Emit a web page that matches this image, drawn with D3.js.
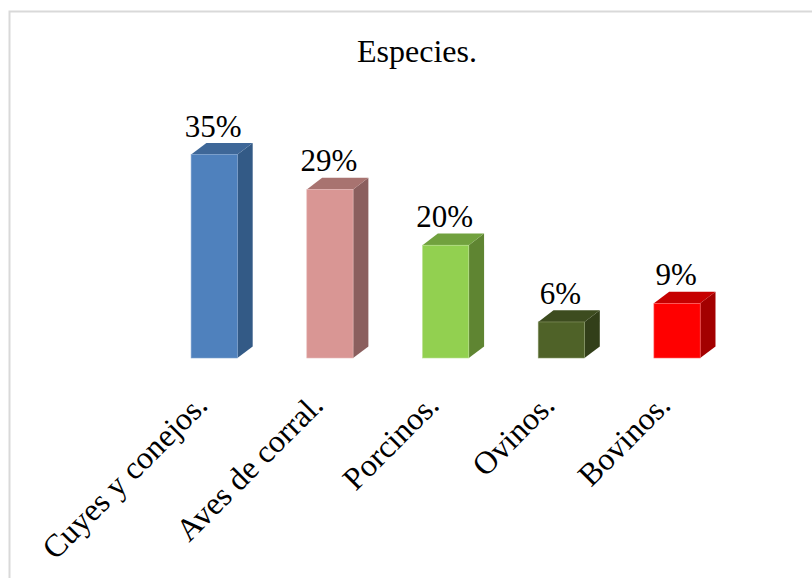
<!DOCTYPE html>
<html>
<head>
<meta charset="utf-8">
<script src="https://cdn.jsdelivr.net/npm/d3@7"></script>
<style>
  html, body { margin: 0; padding: 0; background: #fff; }
  svg { display: block; }
  text { font-family: "Liberation Serif", serif; fill: #000; }
</style>
</head>
<body>
<div id="chart"></div>
<script>
// Data
let categories = ["Cuyes y conejos.", "Aves de corral.", "Porcinos.", "Ovinos.", "Bovinos."];
let values = [35, 29, 19.4, 6.2, 9.4];
let valueLabels = ["35%", "29%", "20%", "6%", "9%"];
let frontColors = ["#4f81bd", "#d99694", "#92d050", "#4f6228", "#ff0000"];
let topColors = ["#3e6798", "#a87370", "#71a13e", "#3d4c1f", "#c60000"];
let sideColors = ["#335a86", "#8b5f5e", "#5f8532", "#323f19", "#a30000"];
let edgeColors = ["#7fa3d0", "#e6b9b8", "#b9e08f", "#8a9a68", "#ff6666"];

// Set up dimensions
let width = 812;
let height = 578;
let depthX = 15.3;
let depthY = 11.6;

// Set up scales
let xScale = d3
  .scaleBand()
  .domain(categories)
  .range([156.4, 734.9])
  .paddingInner(0.6)
  .paddingOuter(0.3);

let yScale = d3.scaleLinear().domain([0, 35]).range([358, 154.5]);

let svg = d3
  .select("#chart")
  .append("svg")
  .attr("width", width)
  .attr("height", height);

// Draw frame
svg
  .append("path")
  .attr("d", `M9.5,${height} V11.5 H${width}`)
  .attr("fill", "none")
  .attr("stroke", "#d9d9d9")
  .attr("stroke-width", 2);

// Draw title
svg
  .append("text")
  .attr("x", 417)
  .attr("y", 62)
  .attr("text-anchor", "middle")
  .attr("font-size", 32)
  .text("Especies.");

// Draw bars
let bars = categories.map((d, i) => ({
  name: d,
  value: values[i],
  label: valueLabels[i],
  front: frontColors[i],
  top: topColors[i],
  side: sideColors[i],
  edge: edgeColors[i],
}));

let bar = svg
  .append("g")
  .attr("class", "bars")
  .selectAll("g")
  .data(bars)
  .join("g")
  .attr("class", "bar");

// Side face
bar
  .append("path")
  .attr("fill", (d) => d.side)
  .attr("d", (d) => {
    let x = xScale(d.name) + xScale.bandwidth();
    return `M${x},${yScale(0)} L${x + depthX},${yScale(0) - depthY} L${x + depthX},${yScale(d.value) - depthY} L${x},${yScale(d.value)} Z`;
  });

// Top face
bar
  .append("path")
  .attr("fill", (d) => d.top)
  .attr("d", (d) => {
    let x = xScale(d.name);
    let y = yScale(d.value);
    let w = xScale.bandwidth();
    return `M${x},${y} L${x + depthX},${y - depthY} L${x + w + depthX},${y - depthY} L${x + w},${y} Z`;
  });

// Front face
bar
  .append("rect")
  .attr("x", (d) => xScale(d.name))
  .attr("y", (d) => yScale(d.value))
  .attr("width", xScale.bandwidth())
  .attr("height", (d) => yScale(0) - yScale(d.value))
  .attr("fill", (d) => d.front)
  .attr("stroke", (d) => d.edge)
  .attr("stroke-width", 0.6);

// Draw value labels
bar
  .append("text")
  .attr("x", (d) => xScale(d.name) + xScale.bandwidth() / 2 - 1)
  .attr("y", (d) => yScale(d.value) - 18)
  .attr("text-anchor", "middle")
  .attr("font-size", 31)
  .text((d) => d.label);

// Draw x axis
let xAxisG = svg
  .append("g")
  .attr("class", "x axis")
  .attr("transform", `translate(0,${yScale(0)})`)
  .call(d3.axisBottom(xScale).tickSize(0));
xAxisG.select(".domain").remove();
xAxisG
  .selectAll("text")
  .attr("font-family", null)
  .attr("font-size", 32)
  .attr("text-anchor", "end")
  .attr("x", 0)
  .attr("y", 0)
  .attr("dy", null)
  .attr("transform", "translate(-5,49) rotate(-45)");
</script>
</body>
</html>
